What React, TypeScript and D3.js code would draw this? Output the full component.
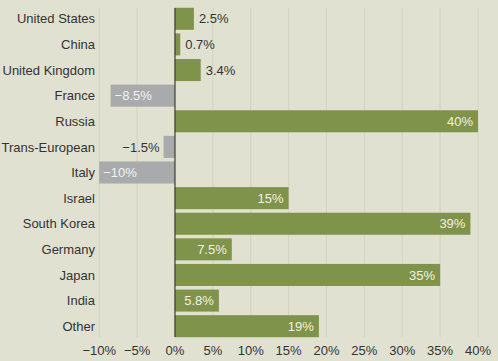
import React from "react";
import * as d3 from "d3";

const categories = [
  "United States",
  "China",
  "United Kingdom",
  "France",
  "Russia",
  "Trans-European",
  "Italy",
  "Israel",
  "South Korea",
  "Germany",
  "Japan",
  "India",
  "Other",
];
const values = [2.5, 0.7, 3.4, -8.5, 40, -1.5, -10, 15, 39, 7.5, 35, 5.8, 19];
const valueLabels = ["2.5%", "0.7%", "3.4%", "\u22128.5%", "40%", "\u22121.5%", "\u221210%", "15%", "39%", "7.5%", "35%", "5.8%", "19%"];
const ticks = [-10, -5, 0, 5, 10, 15, 20, 25, 30, 35, 40];

const width = 498;
const height = 361;
const margins = { top: 6, right: 20, bottom: 22, left: 175 - (75.8) };

const App = () => {
  const xScale = d3.scaleLinear().domain([-10, 40]).range([99.2, 478]);
  const yScale = d3
    .scaleBand()
    .domain(categories)
    .range([margins.top, height - margins.bottom])
    .paddingInner(0.14)
    .paddingOuter(0.07);

  const font = "'Liberation Sans', Arial, sans-serif";
  const x0 = xScale(0);

  return (
    <div style={{ position: "absolute", left: 0, top: 0 }}>
      <svg width={width} height={height} style={{ display: "block", background: "#e0e1d1" }} fontFamily={font}>
        {ticks
          .filter((t) => t !== 0)
          .map((t) => (
            <line
              key={t}
              x1={xScale(t)}
              x2={xScale(t)}
              y1={yScale.range()[0] + 2}
              y2={yScale.range()[1] - 2}
              stroke="#d2d3c2"
              strokeWidth={1}
            />
          ))}
        {categories.map((c, i) => {
          const v = values[i];
          const y = yScale(c);
          const bh = yScale.bandwidth();
          const xs = xScale(Math.min(0, v));
          const w = Math.abs(xScale(v) - x0);
          const inside = Math.abs(v) >= 5;
          let lx, anchor, fill;
          if (v >= 0) {
            if (inside) {
              lx = xScale(v) - 5;
              anchor = "end";
              fill = "#f3f2e2";
            } else {
              lx = xScale(v) + 5;
              anchor = "start";
              fill = "#333";
            }
          } else {
            if (inside) {
              lx = xs + 4;
              anchor = "start";
              fill = "#f3f3f3";
            } else {
              lx = xs - 4;
              anchor = "end";
              fill = "#333";
            }
          }
          return (
            <g key={c}>
              <rect x={xs} y={y} width={w} height={bh} fill={v >= 0 ? "#7f934a" : "#a9aaac"} />
              <text x={lx} y={y + bh / 2} dy="0.36em" textAnchor={anchor} fontSize={13} fill={fill}>
                {valueLabels[i]}
              </text>
              <text x={95} y={y + bh / 2} dy="0.36em" textAnchor="end" fontSize={13} fill="#333">
                {c}
              </text>
            </g>
          );
        })}
        <line
          x1={x0}
          x2={x0}
          y1={yScale.range()[0] + 2}
          y2={yScale.range()[1] - 2}
          stroke="#3a3a30"
          strokeWidth={1.2}
        />
        {ticks.map((t) => (
          <text key={t} x={xScale(t)} y={350} dy="0.36em" textAnchor="middle" fontSize={13} fill="#333">
            {t < 0 ? `\u2212${Math.abs(t)}%` : `${t}%`}
          </text>
        ))}
      </svg>
    </div>
  );
};

export default App;
